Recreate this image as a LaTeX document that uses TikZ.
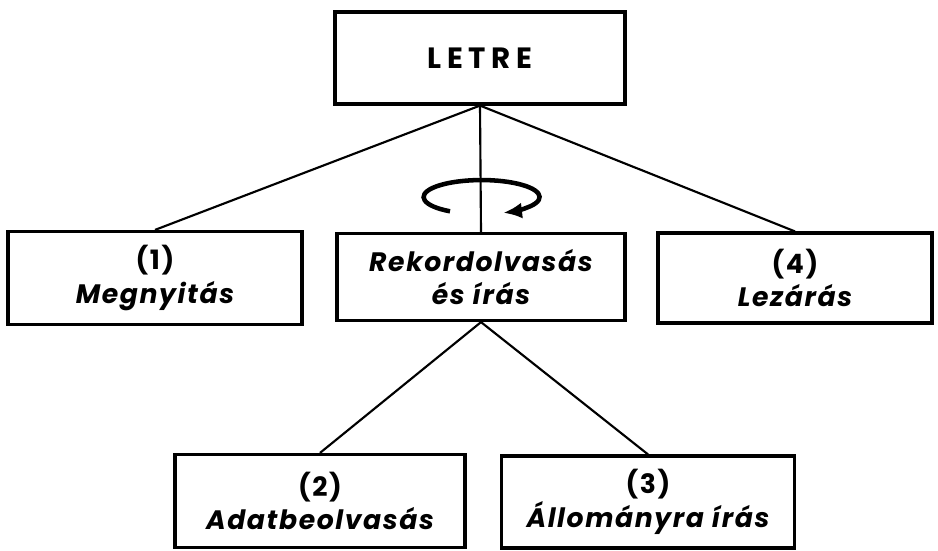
\documentclass[tikz,border=0pt]{standalone}
\usepackage{fontspec}
\setmainfont{Poppins}
\usetikzlibrary{arrows.meta}
\begin{document}
\begin{tikzpicture}[x=0.75pt,y=-0.75pt,
  box/.style={draw, line width=2.4pt, align=center, inner sep=0pt,
    font=\fontsize{20}{25}\selectfont\bfseries\addfontfeatures{LetterSpace=6}},
  conn/.style={line width=1.6pt}]
\useasboundingbox (0,0) rectangle (938,550);
\node[box, minimum width=290*0.75pt, minimum height=92*0.75pt] (letre) at (480,58)
  {\fontsize{22}{26}\selectfont\addfontfeatures{LetterSpace=20}LETRE};
\node[box, minimum width=294*0.75pt, minimum height=93*0.75pt] (m1) at (155,278)
  {(1)\\\itshape Megnyitás};
\node[box, minimum width=288*0.75pt, minimum height=87*0.75pt] (rek) at (481,277)
  {\itshape Rekordolvasás\\\itshape és írás};
\node[box, minimum width=274*0.75pt, minimum height=90*0.75pt] (m4) at (795,278)
  {(4)\\\itshape Lezárás};
\node[box, minimum width=290*0.75pt, minimum height=93*0.75pt] (m2) at (320,501)
  {(2)\\\itshape Adatbeolvasás};
\node[box, minimum width=293*0.75pt, minimum height=92*0.75pt] (m3) at (648,502)
  {(3)\\\itshape Állományra írás};
\draw[conn] (letre.south) -- (m1.north);
\draw[conn] (letre.south) -- (rek.north);
\draw[conn] (letre.south) -- (m4.north);
\draw[conn] (rek.south) -- (m2.north);
\draw[conn] (rek.south) -- (m3.north);
\coordinate (loopc) at (481,197);
\draw[line width=3.4pt, -{Latex[length=14pt,width=12pt]}]
  ([shift={(-31,14.3)}]loopc) arc[start angle=123, end angle=428, x radius=58, y radius=17];
\end{tikzpicture}
\end{document}
